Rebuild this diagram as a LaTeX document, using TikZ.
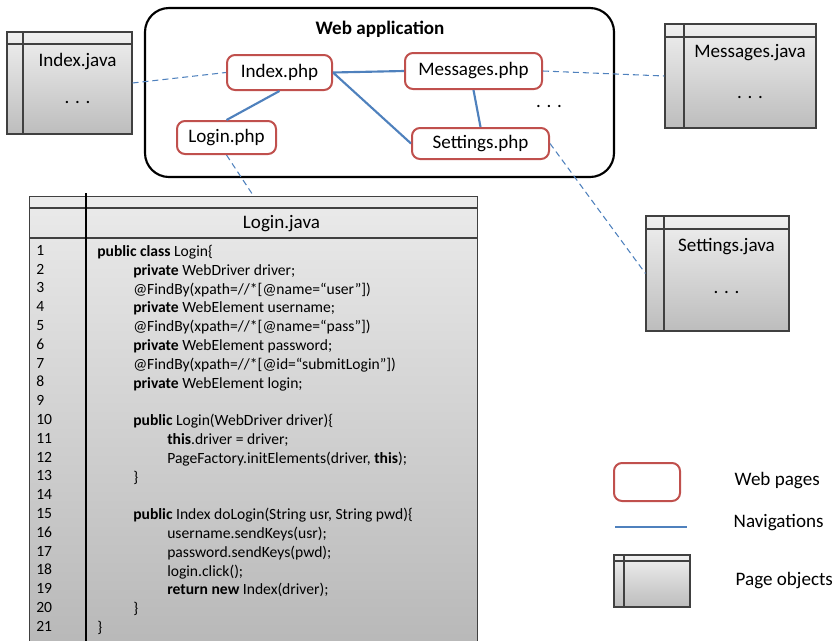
\documentclass[tikz,border=0pt]{standalone}
\usepackage{fontspec}
\setmainfont{Carlito}
\usetikzlibrary{calc}

\definecolor{pagered}{RGB}{192,80,77}
\definecolor{navblue}{RGB}{79,129,189}

% Einrueckung im Code
\newcommand{\indI}{\hspace*{27pt}}
\newcommand{\indII}{\hspace*{52.5pt}}

\begin{document}
\begin{tikzpicture}[
    x=0.75pt, y=-0.75pt,
    font=\fontsize{14.3}{17}\selectfont,
    % Stile fuer Konsistenz
    app/.style={draw=black, line width=1.6pt, rounded corners=18pt, minimum width=351.75pt, minimum height=126.75pt},
    title/.style={font=\fontsize{14.3}{17}\selectfont\bfseries},
    webpage/.style={draw=pagered, line width=1.5pt, rounded corners=6pt, fill=white, inner sep=0pt},
    nav/.style={navblue, line width=1.6pt},
    link/.style={navblue, line width=0.8pt, dash pattern=on 4.5pt off 3pt},
    pageobj/.style 2 args={draw=black!75, line width=0.8pt, top color=black!6, bottom color=black!26, inner sep=0pt,
        path picture={
            \draw[black!75, line width=1.2pt] ([yshift=-#2]path picture bounding box.north west) -- ([yshift=-#2]path picture bounding box.north east);
            \draw[black!75, line width=1.2pt] ([xshift=#1]path picture bounding box.north west) -- ([xshift=#1]path picture bounding box.south west);
        }},
    codetext/.style={font=\fontsize{11.7}{14.1}\selectfont, align=left, inner sep=0pt, anchor=north west}
]
    \useasboundingbox (0,0) rectangle (839,640);

    % ==========================================
    % WEB APPLICATION
    % ==========================================
    \node[app] (webapp) at (379.5,92.5) {};
    \node[title] (apptitle) at (380,29.5) {Web application};

    \node[webpage, minimum width=78.75pt, minimum height=26.25pt] (indexphp) at (279.5,72.5) {Index.php};
    \node[webpage, minimum width=102.75pt, minimum height=27pt] (messagesphp) at (473.5,71) {Messages.php};
    \node[webpage, minimum width=74.25pt, minimum height=24.75pt] (loginphp) at (226.5,137.5) {Login.php};
    \node[webpage, minimum width=102.75pt, minimum height=23.25pt] (settingsphp) at (480.5,143.5) {Settings.php};
    \node (moredots) at (549,106) {. . .};

    % Navigationen
    \draw[nav] (indexphp.east) -- (messagesphp.west);
    \draw[nav] (indexphp.south) -- (loginphp.north);
    \draw[nav] (indexphp.east) -- (settingsphp.west);
    \draw[nav] (messagesphp.south) -- (settingsphp.north);

    % ==========================================
    % PAGE OBJECTS
    % ==========================================
    \node[pageobj={12pt}{9pt}, minimum width=93.75pt, minimum height=76.5pt] (indexjava) at (69.5,83) {};
    \node (indexname) at (77.5,62) {Index.java};
    \node (indexdots) at (77.5,102) {. . .};

    \node[pageobj={14.25pt}{9.75pt}, minimum width=113.25pt, minimum height=78pt] (messagesjava) at (740.5,76) {};
    \node (messagesname) at (750,53) {Messages.java};
    \node (messagesdots) at (750,97) {. . .};

    \node[pageobj={13.5pt}{9.75pt}, minimum width=107.25pt, minimum height=86.25pt] (settingsjava) at (717.5,273.5) {};
    \node (settingsname) at (726.5,247) {Settings.java};
    \node (settingsdots) at (726.5,292) {. . .};

    % Login.java mit Code
    \node[draw=black!75, line width=0.8pt, top color=black!8, bottom color=black!28, inner sep=0pt,
          minimum width=336pt, minimum height=340.5pt, anchor=north west] (loginjava) at (29,196) {};
    \draw[black!75, line width=1.2pt] ($(loginjava.north west)+(0,12)$) -- ($(loginjava.north east)+(0,12)$);
    \draw[black!75, line width=1.2pt] ($(loginjava.north west)+(0,42)$) -- ($(loginjava.north east)+(0,42)$);
    \draw[black, line width=1.6pt] ($(loginjava.north west)+(57,-3)$) -- ($(loginjava.south west)+(57,0)$);
    \node (loginname) at (281.5,224) {Login.java};

    \node[codetext] (linenos) at (36,245) {1\\2\\3\\4\\5\\6\\7\\8\\9\\10\\11\\12\\13\\14\\15\\16\\17\\18\\19\\20\\21};
    \node[codetext] (codelines) at (97,245) {%
        \textbf{public class} Login\{\\
        \indI\textbf{private} WebDriver driver;\\
        \indI@FindBy(xpath=//*[@name=``user''])\\
        \indI\textbf{private} WebElement username;\\
        \indI@FindBy(xpath=//*[@name=``pass''])\\
        \indI\textbf{private} WebElement password;\\
        \indI@FindBy(xpath=//*[@id=``submitLogin''])\\
        \indI\textbf{private} WebElement login;\\
        \mbox{}\\
        \indI\textbf{public} Login(WebDriver driver)\{\\
        \indII\textbf{this}.driver = driver;\\
        \indII PageFactory.initElements(driver, \textbf{this});\\
        \indI\}\\
        \mbox{}\\
        \indI\textbf{public} Index doLogin(String usr, String pwd)\{\\
        \indII username.sendKeys(usr);\\
        \indII password.sendKeys(pwd);\\
        \indII login.click();\\
        \indII\textbf{return new} Index(driver);\\
        \indI\}\\
        \}};

    % Zuordnung Seite -> Page Object
    \draw[link] (indexjava.east) -- (indexphp.west);
    \draw[link] (messagesphp.east) -- (messagesjava.west);
    \draw[link] (loginphp.south) -- (loginjava.north);
    \draw[link] (settingsphp.east) -- (settingsjava.west);

    % ==========================================
    % LEGENDE
    % ==========================================
    \node[webpage, minimum width=49.5pt, minimum height=28.5pt] (legpage) at (647,482) {};
    \node[anchor=west] (legpagetext) at (730,481) {Web pages};

    \coordinate (legnavA) at (615,527);
    \coordinate (legnavB) at (687,527);
    \draw[nav] (legnavA) -- (legnavB);
    \node[anchor=west] (legnavtext) at (729,523) {Navigations};

    \node[pageobj={7.5pt}{4.5pt}, minimum width=57pt, minimum height=39pt] (legobj) at (652,581) {};
    \node[anchor=west] (legobjtext) at (731,581) {Page objects};

\end{tikzpicture}
\end{document}
